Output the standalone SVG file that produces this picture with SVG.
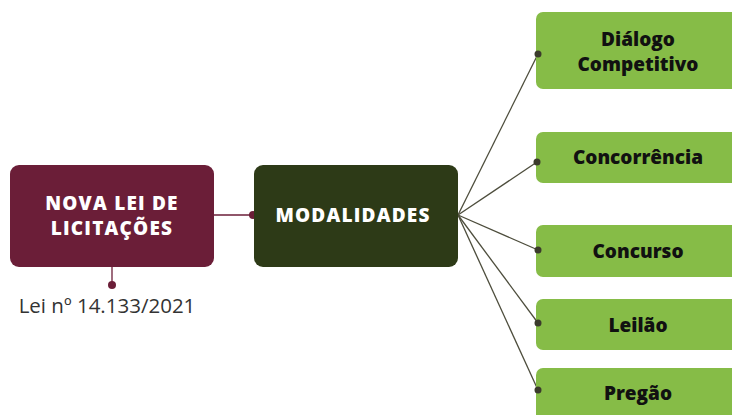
<svg xmlns="http://www.w3.org/2000/svg" width="732" height="415" viewBox="0 0 732 415">
<style>
.t{font-family:"Open Sans","Liberation Sans",sans-serif;font-weight:800;text-anchor:middle}
.w{fill:#ffffff;font-size:19px;letter-spacing:1.2px}
.k{fill:#111111;font-size:19px}
.leaf{fill:#86bc47}
.c{stroke:#4d4d3c;stroke-width:1.3;fill:none}
.d{fill:#3b3b2c}
</style>
<rect width="732" height="415" fill="#ffffff"/>
<g id="connectors">
<line x1="214" y1="215" x2="253" y2="215" stroke="#6b1e38" stroke-width="1.3"/>
<line x1="112" y1="267" x2="112" y2="285" stroke="#6b1e38" stroke-width="1.3"/>
<circle cx="253" cy="215" r="4" fill="#6b1e38"/>
<circle cx="112" cy="285" r="4" fill="#6b1e38"/>
<line class="c" x1="458" y1="215" x2="538" y2="54"/>
<line class="c" x1="458" y1="215" x2="537" y2="162"/>
<line class="c" x1="458" y1="215" x2="538" y2="250"/>
<line class="c" x1="458" y1="215" x2="538" y2="323"/>
<line class="c" x1="458" y1="215" x2="538" y2="390"/>
</g>
<g id="nova-lei">
<rect x="10" y="165" width="204" height="102" rx="9" fill="#6b1e38"/>
<text class="t w" x="112" y="210">NOVA LEI DE</text>
<text class="t w" x="112" y="235">LICITAÇÕES</text>
</g>
<g id="lei-label">
<text x="107" y="313" font-family="'Open Sans','Liberation Sans',sans-serif" font-size="20.5" fill="#333333" text-anchor="middle">Lei nº 14.133/2021</text>
</g>
<g id="modalidades">
<rect x="254" y="165" width="204" height="102" rx="9" fill="#2d3a17"/>
<text class="t w" x="353" y="222">MODALIDADES</text>
</g>
<g id="dialogo">
<rect class="leaf" x="536" y="12" width="204" height="77" rx="7"/>
<text class="t k" x="638" y="46">Diálogo</text>
<text class="t k" x="638" y="71">Competitivo</text>
</g>
<g id="concorrencia">
<rect class="leaf" x="536" y="132" width="204" height="51" rx="7"/>
<text class="t k" x="638" y="164">Concorrência</text>
</g>
<g id="concurso">
<rect class="leaf" x="536" y="225" width="204" height="52" rx="7"/>
<text class="t k" x="638" y="258">Concurso</text>
</g>
<g id="leilao">
<rect class="leaf" x="536" y="299" width="204" height="51" rx="7"/>
<text class="t k" x="638" y="332">Leilão</text>
</g>
<g id="pregao">
<rect class="leaf" x="536" y="368" width="204" height="60" rx="7"/>
<text class="t k" x="638" y="400">Pregão</text>
</g>
<g id="dots">
<circle class="d" cx="538" cy="54" r="3.5"/>
<circle class="d" cx="537" cy="162" r="3.5"/>
<circle class="d" cx="538" cy="250" r="3.5"/>
<circle class="d" cx="538" cy="323" r="3.5"/>
<circle class="d" cx="538" cy="390" r="3.5"/>
</g>
</svg>
